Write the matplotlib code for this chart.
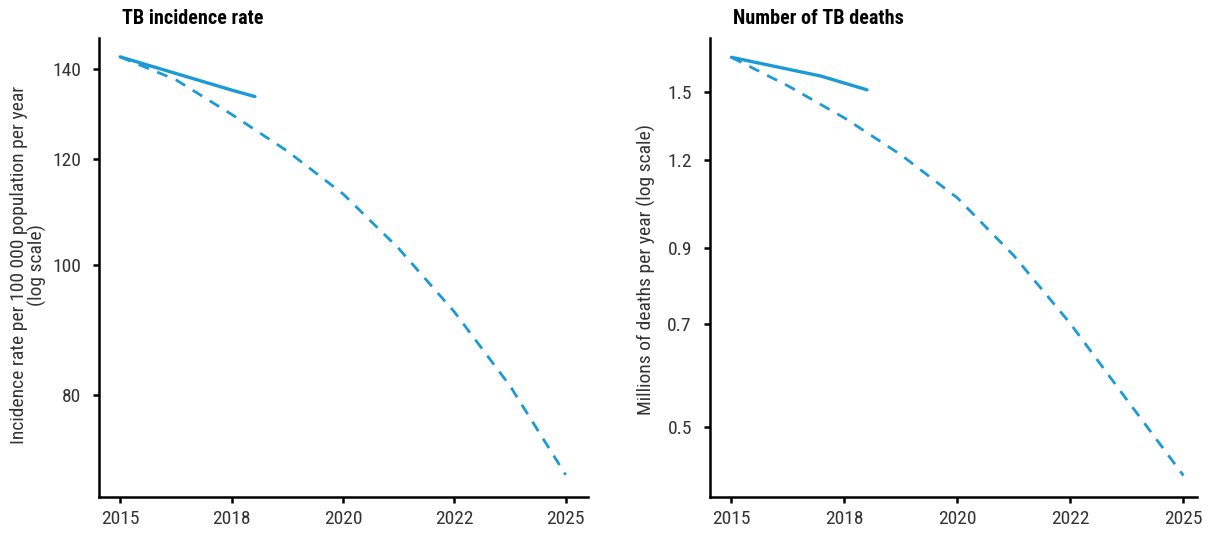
import matplotlib.pyplot as plt
from matplotlib import font_manager as fm
from matplotlib.ticker import FixedLocator, NullLocator

# tick labels (evenly spaced on the axis, as in the original)
year_labels = ["2015", "2018", "2020", "2022", "2025"]
year_pos = [0, 1, 2, 3, 4]

# incidence rate per 100 000 (log scale)
inc_actual_x = [0, 1, 1.21]
inc_actual = [142.9, 135.0, 133.5]
inc_target_x = [0, 0.5, 1, 1.5, 2, 2.5, 3, 3.5, 4]
inc_target = [142.9, 137.4, 129.5, 121.6, 113.0, 102.9, 92.3, 81.3, 69.8]
inc_ticks = [80, 100, 120, 140]

# TB deaths, millions (log scale)
death_actual_x = [0, 0.79, 1.2]
death_actual = [1.68, 1.58, 1.51]
death_target_x = [0, 0.5, 1, 1.5, 2, 2.5, 3, 3.5, 4]
death_target = [1.68, 1.53, 1.377, 1.22, 1.059, 0.876, 0.701, 0.546, 0.426]
death_ticks = [0.5, 0.7, 0.9, 1.2, 1.5]

blue = "#1b9ad6"
txt = "#333333"

# look for a narrow/condensed face, the original uses one
narrow = {"condensed", "semi-condensed", "extra-condensed", "ultra-condensed"}
found = {}
for f in fm.fontManager.ttflist:
    st = f.stretch
    is_narrow = (st in narrow) or (isinstance(st, int) and st < 500) \
        or "Narrow" in f.name or "Condensed" in f.name
    if is_narrow:
        found.setdefault(f.name, st)
family, stretch = "DejaVu Sans", "normal"
for name in ["Liberation Sans Narrow", "Roboto Condensed", "Noto Sans",
             "DejaVu Sans", "Open Sans", "Roboto", "Noto Sans Condensed",
             "DejaVu Sans Condensed"]:
    if name in found:
        family, stretch = name, found[name]
        break
plt.rcParams["font.family"] = [family, "DejaVu Sans"]
plt.rcParams["font.stretch"] = stretch

fig = plt.figure(figsize=(12.13, 5.36), dpi=100)
W, H = 1213, 536
ax1 = fig.add_axes([99 / W, 1 - 497 / H, (588 - 99) / W, (497 - 38) / H])
ax2 = fig.add_axes([710 / W, 1 - 497 / H, (1197 - 710) / W, (497 - 38) / H])


def style(ax, ticks, tick_fmt, ylim, xlim):
    ax.set_yscale("log")
    ax.set_ylim(*ylim)
    ax.set_xlim(*xlim)
    ax.yaxis.set_major_locator(FixedLocator(ticks))
    ax.yaxis.set_minor_locator(NullLocator())
    ax.set_yticklabels([tick_fmt(t) for t in ticks])
    ax.set_xticks(year_pos)
    ax.set_xticklabels(year_labels)
    for s in ["top", "right"]:
        ax.spines[s].set_visible(False)
    for s in ["left", "bottom"]:
        ax.spines[s].set_linewidth(1.8)
        ax.spines[s].set_color("black")
    ax.tick_params(axis="both", length=4, width=1.8, color="black",
                   labelsize=14, labelcolor=txt)
    ax.tick_params(axis="y", pad=9)
    ax.tick_params(axis="x", pad=5)


# left panel
ax1.plot(inc_target_x, inc_target, color=blue, lw=2.0, ls=(0, (4, 3.2)))
ax1.plot(inc_actual_x, inc_actual, color=blue, lw=2.4, solid_capstyle="round")
style(ax1, inc_ticks, lambda t: f"{t:d}", (67.2, 147.6), (-0.19, 4.2))
ax1.set_ylabel("Incidence rate per 100 000 population per year\n(log scale)",
               fontsize=14, color=txt, linespacing=1.0)
ax1.yaxis.set_label_coords(-0.106, 0.505)
fig.text(122 / W, 1 - 18 / H, "TB incidence rate", fontsize=14.5,
         fontweight="bold", color="black", ha="left", va="center")

# right panel
ax2.plot(death_target_x, death_target, color=blue, lw=2.0, ls=(0, (4, 3.2)))
ax2.plot(death_actual_x, death_actual, color=blue, lw=2.4, solid_capstyle="round")
style(ax2, death_ticks, lambda t: f"{t:.1f}", (0.397, 1.79), (-0.19, 4.12))
ax2.set_ylabel("Millions of deaths per year (log scale)", fontsize=14,
               color=txt)
ax2.yaxis.set_label_coords(-0.111, 0.495)
fig.text(733 / W, 1 - 18 / H, "Number of TB deaths", fontsize=14.5,
         fontweight="bold", color="black", ha="left", va="center")

fig.savefig("out.png", dpi=100, facecolor="white")
